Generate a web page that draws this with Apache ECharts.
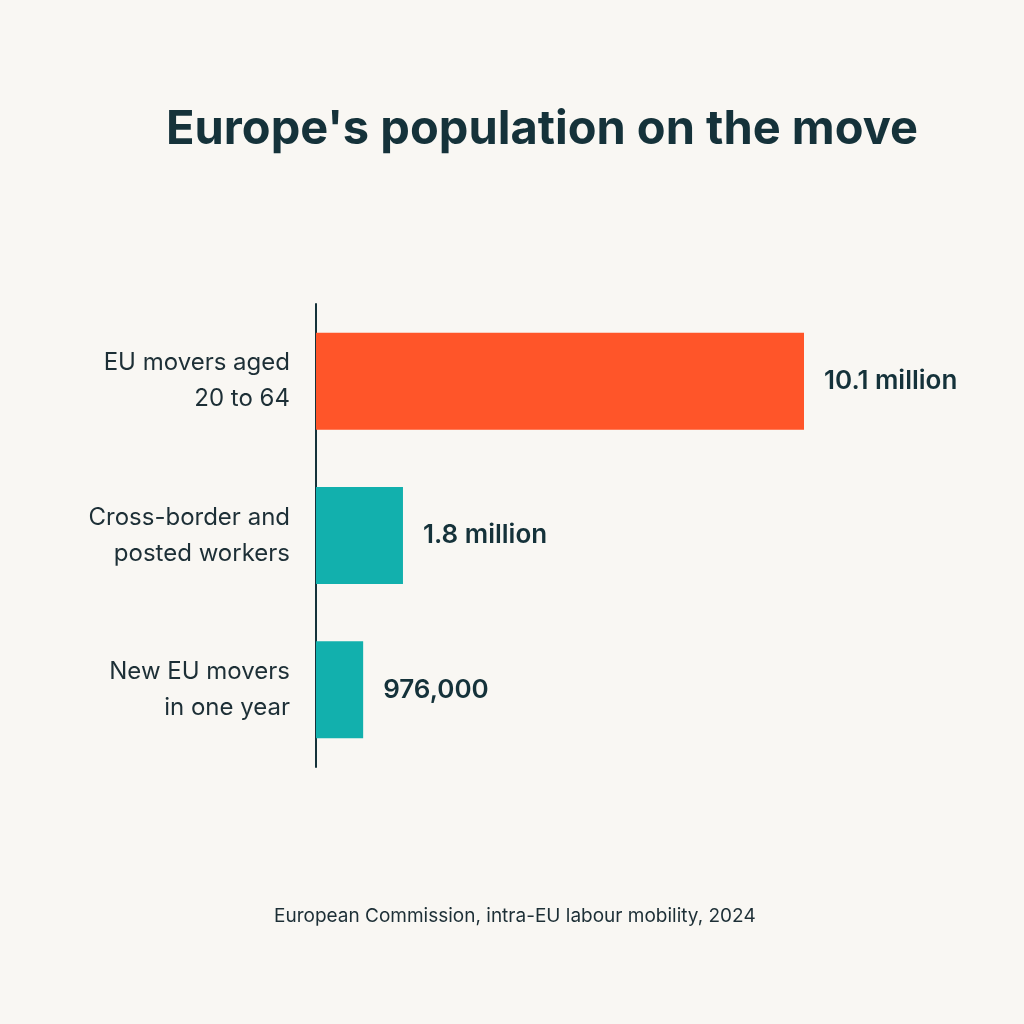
<!DOCTYPE html>
<html>
<head>
<meta charset="utf-8">
<script src="https://cdn.jsdelivr.net/npm/echarts@6/dist/echarts.min.js"></script>
<style>
  html, body { margin: 0; padding: 0; background: #f9f7f3; }
  #chart { width: 1024px; height: 1024px; }
</style>
</head>
<body>
<div id="chart"></div>
<script>
var categories = ['EU movers aged\n20 to 64', 'Cross-border and\nposted workers', 'New EU movers\nin one year'];
var values = [10.1, 1.8, 0.976];
var valueLabels = ['10.1 million', '1.8 million', '976,000'];
var barColors = ['#ff5529', '#12b0ad', '#12b0ad'];

var chart = echarts.init(document.getElementById('chart'));

var option = {
    backgroundColor: '#f9f7f3',
    graphic: [{
        type: 'text',
        left: 166,
        top: 106,
        style: { text: "Europe's population on the move", fontFamily: 'Inter', fontSize: 47, fontWeight: 'bold', fill: '#15323a' }
    }, {
        type: 'text',
        left: 274,
        top: 907,
        style: { text: 'European Commission, intra-EU labour mobility, 2024', fontFamily: 'Inter', fontSize: 19, fill: '#1d2f36' }
    }],
    grid: { left: 316, width: 488, top: 304, height: 463 },
    xAxis: { type: 'value', min: 0, max: 10.1, show: false },
    yAxis: {
        type: 'category',
        inverse: true,
        data: categories,
        axisLine: { show: true, lineStyle: { color: '#15323a', width: 2 } },
        axisTick: { show: false },
        axisLabel: {
            margin: 26, align: 'right', fontFamily: 'Inter', fontSize: 24,
            lineHeight: 36, color: '#1d2f36'
        }
    },
    series: [{
        type: 'bar',
        barWidth: 97,
        data: values.map(function (v, i) {
            return { value: v, itemStyle: { color: barColors[i] } };
        }),
        label: {
            show: true,
            position: 'right',
            distance: 20,
            fontFamily: 'Inter',
            fontSize: 26,
            fontWeight: 600,
            color: '#15323a',
            formatter: function (p) { return valueLabels[p.dataIndex]; }
        }
    }]
};

chart.setOption(option);
</script>
</body>
</html>
